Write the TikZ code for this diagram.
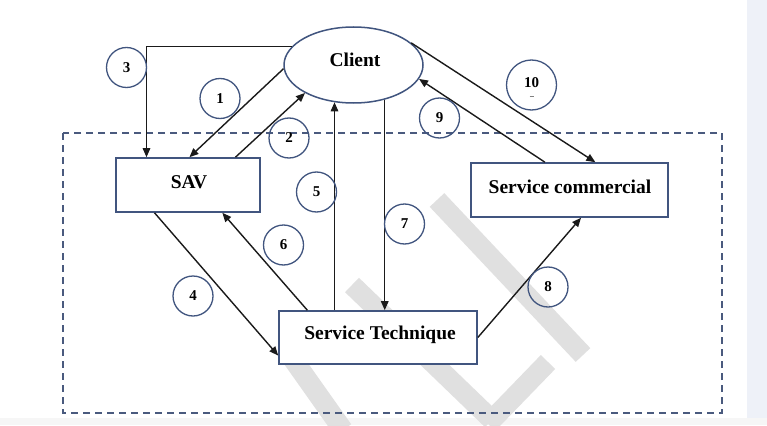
\documentclass[tikz,border=0pt]{standalone}
\usepackage{fontspec}
\setmainfont{Liberation Serif}
\usetikzlibrary{shapes.geometric,arrows.meta,calc}
\definecolor{edgeblue}{HTML}{41557F}
\definecolor{dashblue}{HTML}{4A5A7E}
\definecolor{wmgray}{HTML}{E0E0E0}
\definecolor{stripcol}{HTML}{EEF1F8}
\definecolor{bottomcol}{HTML}{F6F6F6}
\definecolor{inkcol}{HTML}{1A1A1A}
\begin{document}
\begin{tikzpicture}[x=1pt,y=-1pt,
  box/.style={draw=edgeblue, line width=1.6pt, fill=white, inner sep=0pt},
  lbl/.style={font=\fontsize{19.5}{22}\selectfont\bfseries, inner sep=0pt, anchor=base},
  num/.style={circle, draw=edgeblue, line width=1.3pt, minimum size=40pt, inner sep=0pt, font=\fontsize{15}{17}\selectfont\bfseries},
  arr/.style={draw=inkcol, line width=1.4pt, -{Triangle[length=9pt,width=7.5pt]}},
  wmark/.style={draw=wmgray, line width=20pt},
  zone/.style={draw=dashblue, line width=1.4pt, dash pattern=on 7pt off 5pt}]
\useasboundingbox (0,0) rectangle (767,425);
\fill[white] (0,0) rectangle (767,425);
\fill[stripcol] (747,0) rectangle (767,418);
\fill[bottomcol] (0,418) rectangle (767,425);
% watermark
\begin{scope}
\clip (0,0) rectangle (747,425);
\draw[wmark] (437,200) -- (583,355);
\draw[wmark] (352,285) -- (492,420);
\draw[wmark] (548,362) -- (488,424);
\draw[wmark] (285,348) -- (343,430);
\end{scope}
% dashed zone
\draw[zone] (63,133) rectangle (722,413);
% main nodes
\node[ellipse, draw=edgeblue, line width=1.5pt, fill=white, minimum width=139pt, minimum height=76pt, inner sep=0pt] (client) at (353.5,65) {};
\node[lbl] (tclient) at (355,67) {Client};
\node[box, minimum width=144pt, minimum height=54pt] (sav) at (188,185) {};
\node[lbl] (tsav) at (189,188) {SAV};
\node[box, minimum width=197pt, minimum height=54pt] (sc) at (569.5,190) {};
\node[lbl] (tsc) at (570,193) {Service commercial};
\node[box, minimum width=198pt, minimum height=53pt] (st) at (378,337.5) {};
\node[lbl] (tst) at (380,339) {Service Technique};
% connectors
\draw[arr] (client.163) -| ($(sav.north west)!0.215!(sav.north east)$);
\draw[arr] (client.183) -- ($(sav.north west)!0.51!(sav.north east)$);
\draw[arr] ($(sav.north west)!0.826!(sav.north east)$) -- (client.210);
\draw[arr] (st.north -| client.243) -- (client.243);
\draw[arr] (client.312) -- (client.312 |- st.north);
\draw[arr] ($(sav.south west)!0.27!(sav.south east)$) -- ($(st.north west)!0.83!(st.south west)$);
\draw[arr] ($(st.north west)!0.146!(st.north east)$) -- ($(sav.south west)!0.736!(sav.south east)$);
\draw[arr] (st.east) -- ($(sc.south west)!0.558!(sc.south east)$);
\draw[arr] ($(sc.north west)!0.376!(sc.north east)$) -- (client.348);
\draw[arr] (client.21) -- ($(sc.north west)!0.63!(sc.north east)$);
% numbered circles
\node[num] (n3) at (126.5,67.5) {3};
\node[num] (n1) at (220,98.5) {1};
\node[num] (n2) at (289,138) {2};
\node[num] (n5) at (316.5,192) {5};
\node[num] (n6) at (283.5,245) {6};
\node[num] (n4) at (193,296) {4};
\node[num] (n7) at (404.5,224) {7};
\node[num] (n8) at (548,287) {8};
\node[num] (n9) at (439.5,118) {9};
\node[num, minimum size=50pt] (n10) at (531.5,85) {};
\node[font=\fontsize{15}{17}\selectfont\bfseries, inner sep=0pt] (t10) at (531.5,83) {10};
\draw[draw=gray, line width=0.8pt] (529.5,96) -- (533.5,96);
\end{tikzpicture}
\end{document}
